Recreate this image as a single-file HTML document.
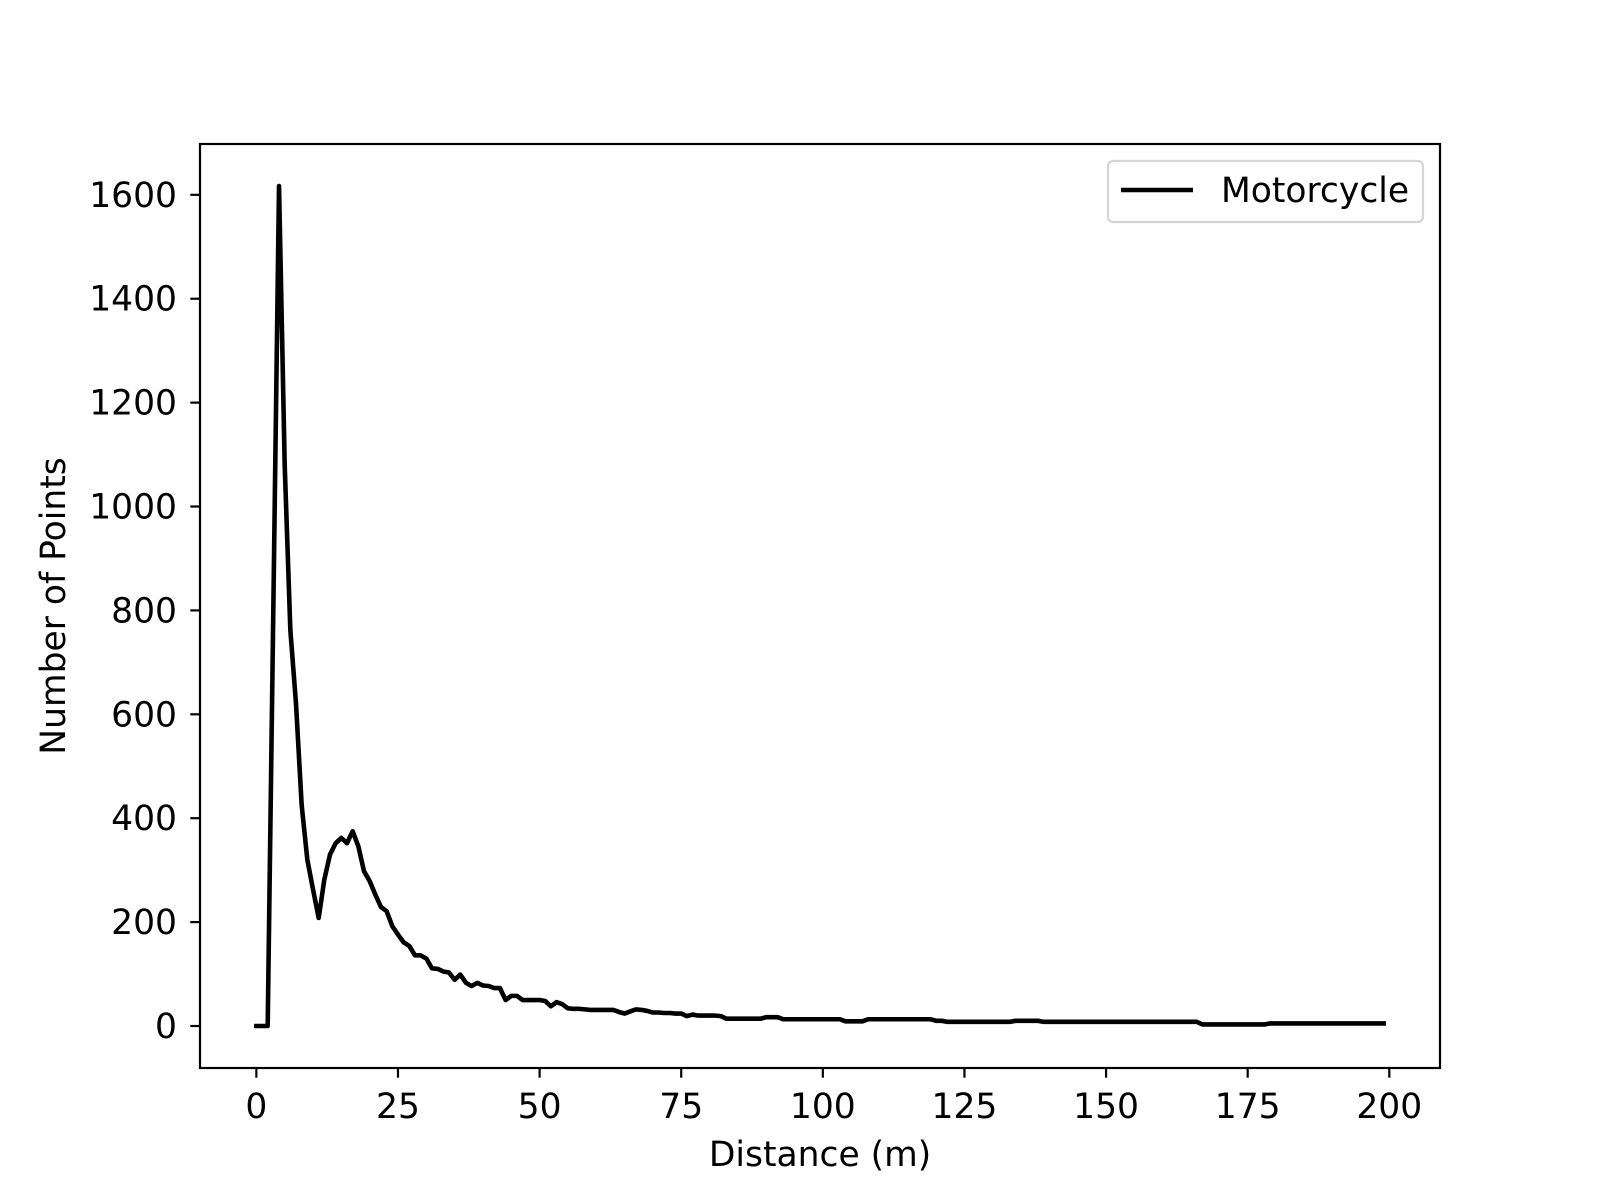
<!DOCTYPE html>
<html><head><meta charset="utf-8"><style>
body{margin:0;background:#fff}
svg{display:block}
text{font-family:"DejaVu Sans","Liberation Sans",sans-serif;fill:#000}
</style></head><body>
<svg id="chart" width="1600" height="1200" viewBox="0 0 1600 1200">
<rect width="1600" height="1200" fill="#fff"/>
<g id="plot"></g>
</svg>
<script>
const distances = Array.from({length:200},(_, i)=>i);
const counts = [0,0,0,808,1617,1080,762,620,425,320,
263,208,282,330,352,362,352,375,346,298,
279,253,229,221,192,176,161,154,136,136,
130,111,110,105,103,89,99,83,77,83,
78,77,73,73,50,58,58,50,50,50,
50,48,38,46,42,34,33,33,32,31,
31,31,31,31,27,24,28,32,31,29,
26,26,25,25,24,24,19,22,20,20,
20,20,19,14,14,14,14,14,14,14,
17,17,17,13,13,13,13,13,13,13,
13,13,13,13,9,9,9,9,13,13,
13,13,13,13,13,13,13,13,13,13,
10,10,8,8,8,8,8,8,8,8,
8,8,8,8,10,10,10,10,10,8,
8,8,8,8,8,8,8,8,8,8,
8,8,8,8,8,8,8,8,8,8,
8,8,8,8,8,8,8,3,3,3,
3,3,3,3,3,3,3,3,3,5,
5,5,5,5,5,5,5,5,5,5,
5,5,5,5,5,5,5,5,5,5];
const xTicks = [0,25,50,75,100,125,150,175,200];
const yTicks = [0,200,400,600,800,1000,1200,1400,1600];
const seriesName = "Motorcycle";

const NS="http://www.w3.org/2000/svg";
const L=200,R=1440,T=144,B=1068,FS=34.5;
const xMin=-9.95,xMax=208.95;
const dMax=Math.max(...counts),dMin=Math.min(...counts);
const pad=(dMax-dMin)*0.05;
const yMin=dMin-pad,yMax=dMax+pad;
const sx=v=>L+(v-xMin)/(xMax-xMin)*(R-L);
const sy=v=>B-(v-yMin)/(yMax-yMin)*(B-T);
const g=document.getElementById('plot');
function mk(tag,attrs,parent){const e=document.createElementNS(NS,tag);for(const k in attrs)e.setAttribute(k,attrs[k]);(parent||g).appendChild(e);return e;}

const pts=distances.map((d,i)=>sx(d).toFixed(2)+','+sy(counts[i]).toFixed(2)).join(' ');
const line=mk('polyline',{points:pts,fill:'none',stroke:'#000','stroke-width':4.6,'stroke-linejoin':'round','stroke-linecap':'square'});



const frame=mk('rect',{x:L,y:T,width:R-L,height:B-T,fill:'none',stroke:'#000','stroke-width':2.2});



xTicks.forEach(t=>{
  const x=sx(t);
  const tk=mk('line',{x1:x,x2:x,y1:B,y2:B+9.7,stroke:'#000','stroke-width':2.2});
  
  
  const tx=mk('text',{x:x,y:B+50,'font-size':FS,'text-anchor':'middle'});
  tx.textContent=t;
  
  
});
yTicks.forEach(t=>{
  const y=sy(t);
  const tk=mk('line',{x1:L-9.7,x2:L,y1:y,y2:y,stroke:'#000','stroke-width':2.2});
  
  
  const tx=mk('text',{x:L-23,y:y+12,'font-size':FS,'text-anchor':'end'});
  tx.textContent=t;
  
  
});

const xl=mk('text',{x:(L+R)/2,y:1166,'font-size':FS,'text-anchor':'middle'});
xl.textContent='Distance (m)';


const yl=mk('text',{x:0,y:0,'font-size':FS,'text-anchor':'middle',transform:`translate(65,${(T+B)/2}) rotate(-90)`});
yl.textContent='Number of Points';



const lg=mk('g',{});


const lb=mk('rect',{x:1108,y:161,width:315,height:61,rx:5,fill:'#fff','fill-opacity':0.8,stroke:'#d5d5d5','stroke-width':2.2},lg);


const ll=mk('line',{x1:1121,x2:1193,y1:190,y2:190,stroke:'#000','stroke-width':4.6},lg);


const lt=mk('text',{x:1221,y:202,'font-size':FS},lg);
lt.textContent=seriesName;


</script>
</body></html>
